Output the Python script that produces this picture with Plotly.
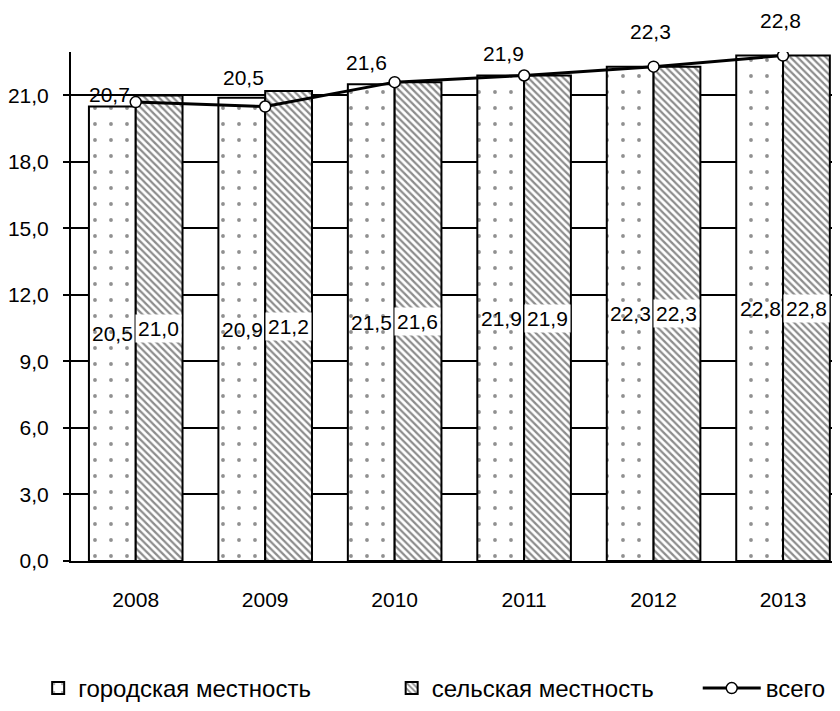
import plotly.graph_objects as go

years = ["2008", "2009", "2010", "2011", "2012", "2013"]
urban = [20.5, 20.9, 21.5, 21.9, 22.3, 22.8]
rural = [21.0, 21.2, 21.6, 21.9, 22.3, 22.8]
total = [20.7, 20.5, 21.6, 21.9, 22.3, 22.8]

# manual label offsets (px) for the "всего" labels, as placed in the source
total_dx = [-26, -22, -28, -21, -3, -3]
total_dy = [8, 29, 20, 22, 35, 35]

FONT = "Liberation Sans, Arial, sans-serif"


def fmt(v):
    return f"{v:.1f}".replace(".", ",")


fig = go.Figure()
fig.add_trace(go.Bar(
    name="городская местность", x=years, y=urban,
    marker=dict(color="white", line=dict(color="black", width=2),
                pattern=dict(shape=".", fgcolor="#222222", bgcolor="white",
                             size=16, solidity=0.045)),
    legend="legend",
))
fig.add_trace(go.Bar(
    name="сельская местность", x=years, y=rural,
    marker=dict(color="white", line=dict(color="black", width=2),
                pattern=dict(shape="\\", fgcolor="#1a1a1a", bgcolor="white",
                             size=5, solidity=0.45)),
    legend="legend2",
))
fig.add_trace(go.Scatter(
    name="всего", x=years, y=total, mode="lines+markers",
    line=dict(color="black", width=3),
    marker=dict(symbol="circle", size=11, color="white",
                line=dict(color="black", width=1.5)),
    legend="legend3",
))

annotations = []
for i in range(len(years)):
    annotations.append(dict(x=i, y=urban[i] / 2, xref="x", yref="y",
                            text=fmt(urban[i]), showarrow=False, xshift=-23))
    annotations.append(dict(x=i, y=rural[i] / 2, xref="x", yref="y",
                            text=fmt(rural[i]), showarrow=False, xshift=23,
                            bgcolor="white", borderpad=2))
    annotations.append(dict(x=i, y=total[i], xref="x", yref="y",
                            text=fmt(total[i]), showarrow=False,
                            xshift=total_dx[i], yshift=total_dy[i]))

legend_style = dict(orientation="h", yanchor="middle", y=-0.2505,
                    xanchor="left", font=dict(size=24, color="black"),
                    bgcolor="rgba(0,0,0,0)")

# page body adds an 8px margin, so the figure is 8px smaller than the window
fig.update_layout(
    width=832, height=703,
    margin=dict(l=60, r=0, t=44, b=144),
    paper_bgcolor="white", plot_bgcolor="white",
    font=dict(family=FONT, size=21, color="black"),
    separators=", ",
    showlegend=True,
    barmode="group", bargap=0.277, bargroupgap=0,
    annotations=annotations,
    legend=dict(x=-0.0427, **legend_style),
    legend2=dict(x=0.417, **legend_style),
    legend3=dict(x=0.815, itemwidth=58, **legend_style),
    xaxis=dict(type="category", range=[-0.5, 5.44], showline=True,
               linecolor="black", linewidth=2, ticks="", showgrid=False,
               ticklabelstandoff=19, tickfont=dict(size=21)),
    yaxis=dict(range=[0, 22.96], tickvals=[0, 3, 6, 9, 12, 15, 18, 21],
               tickformat=".1f", showline=True, linecolor="black", linewidth=2,
               ticks="outside", ticklen=6, tickwidth=2, tickcolor="black",
               showgrid=True, gridcolor="black", gridwidth=2, zeroline=False,
               ticklabelstandoff=10, tickfont=dict(size=21)),
)

fig.write_html("out.html")
